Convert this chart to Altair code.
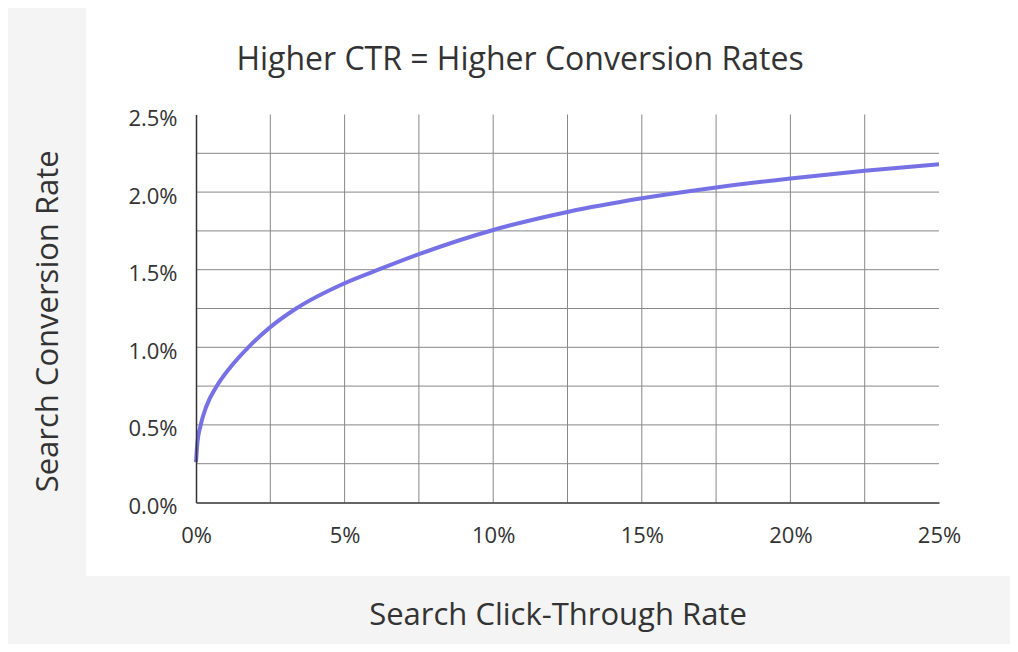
import altair as alt
import pandas as pd

# ---- data ----
ctr = [0, 0.04, 0.16, 0.35, 0.70, 1.15, 1.76, 2.5, 3.37, 5.0, 6.2, 7.5,
       10.0, 12.5, 15.0, 17.5, 20.0, 22.5, 25.0]
cvr = [0.26, 0.37, 0.50, 0.62, 0.75, 0.87, 1.0, 1.13, 1.25, 1.413, 1.505, 1.60,
       1.756, 1.872, 1.96, 2.03, 2.088, 2.138, 2.179]

x_grid = [2.5, 5, 7.5, 10, 12.5, 15, 17.5, 20, 22.5]
y_grid = [0.25, 0.5, 0.75, 1.0, 1.25, 1.5, 1.75, 2.0, 2.25]
x_ticks = [0, 5, 10, 15, 20, 25]
y_ticks = [0, 0.5, 1.0, 1.5, 2.0, 2.5]

title_text = "Higher CTR = Higher Conversion Rates"
x_title = "Search Click-Through Rate"
y_title = "Search Conversion Rate"

# ---- styling ----
FONT = "Open Sans"
TEXT = "#333333"
W, H = 743, 388

line_df = pd.DataFrame({"ctr": ctr, "cvr": cvr})
xg_df = pd.DataFrame({"ctr": x_grid})
yg_df = pd.DataFrame({"cvr": y_grid})

x_scale = alt.Scale(domain=[0, 25], nice=False, zero=False)
y_scale = alt.Scale(domain=[0, 2.5], nice=False, zero=False)

x_axis = alt.Axis(
    values=x_ticks, labelExpr="datum.value + '%'", grid=False, ticks=False,
    domain=True, domainColor=TEXT, domainWidth=1.5,
    labelFont=FONT, labelFontSize=22, labelColor=TEXT, labelPadding=23,
    labelOverlap=False, labelFlush=False,
    titleFont=FONT, titleFontSize=31, titleFontWeight="normal", titleColor=TEXT,
    titleX=361.5, titleY=122.3, titleAlign="center", titleBaseline="alphabetic",
    zindex=1,
)
y_axis = alt.Axis(
    values=y_ticks, labelExpr="format(datum.value, '.1f') + '%'", grid=False, ticks=False,
    domain=True, domainColor=TEXT, domainWidth=1.5,
    labelFont=FONT, labelFontSize=22, labelColor=TEXT, labelPadding=19, labelOffset=4,
    labelOverlap=False, labelFlush=False,
    titleFont=FONT, titleFontSize=31, titleFontWeight="normal", titleColor=TEXT,
    titleX=-139, titleY=206.3, titleAngle=270, titleAlign="center",
    titleBaseline="alphabetic",
    zindex=1,
)

def X(field="ctr"):
    return alt.X(f"{field}:Q", scale=x_scale, axis=x_axis, title=x_title)

def Y(field="cvr"):
    return alt.Y(f"{field}:Q", scale=y_scale, axis=y_axis, title=y_title)

panel = alt.Chart(alt.Data(values=[{}])).mark_rect(color="white").encode(
    x=alt.value(-110), x2=alt.value(814), y=alt.value(-108.5), y2=alt.value(461.5)
)

vgrid = alt.Chart(xg_df).mark_rule(color="#888888", strokeWidth=1).encode(x=X())
hgrid = alt.Chart(yg_df).mark_rule(color="#888888", strokeWidth=1).encode(y=Y())

line = alt.Chart(line_df).mark_line(
    color="#7672e6", strokeWidth=4, interpolate="monotone", strokeCap="butt"
).encode(x=X(), y=Y())

chart = alt.layer(panel, vgrid, hgrid, line).properties(
    width=W, height=H,
    title=alt.TitleParams(
        title_text, font=FONT, fontSize=32, fontWeight="normal", color=TEXT,
        anchor="middle", frame="group", dx=-47.5, dy=96, offset=0,
        baseline="alphabetic",
    ),
    background="#f4f4f4",
    autosize=alt.AutoSizeParams(type="none"),
    padding={"left": 188, "top": 106.5, "right": 71, "bottom": 141.5},
).configure_view(strokeWidth=0)

chart.save("out.html", embed_options={"renderer": "svg", "actions": False})
